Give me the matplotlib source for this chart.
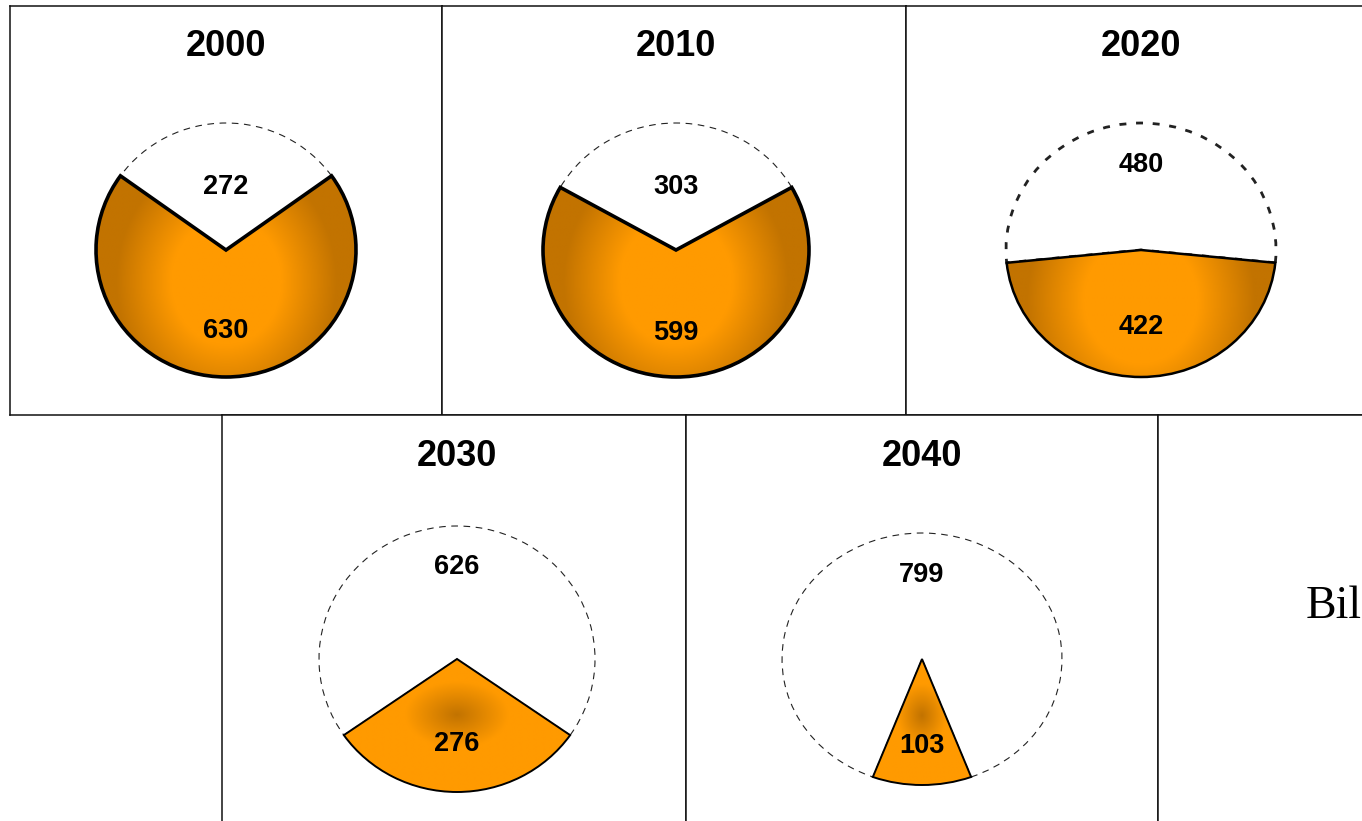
import numpy as np
import matplotlib.pyplot as plt
from matplotlib.colors import LinearSegmentedColormap

# ---------------- data ----------------
years = ['2000', '2010', '2020', '2030', '2040']
white_vals = [272, 303, 480, 626, 799]
orange_vals = [630, 599, 422, 276, 103]
side_label = 'Bil'

# ---------------- layout / style ----------------
W, H = 1362, 821
fig = plt.figure(figsize=(W / 100, H / 100), dpi=100)

# box rectangles in pixel units (left, top, width, height)
boxes = [(10, 6, 432, 409), (442, 6, 464, 409), (906, 6, 470, 409),
         (222, 415, 464, 420), (686, 415, 472, 420)]
extra_box = (1158, 415, 480, 420)
pie_dx = [0, 2, 0, 3, 0]
radii = [(130, 127), (133, 127), (135, 127), (138, 133), (140, 126)]
orange_lw = [2.6, 2.6, 1.8, 1.4, 1.4]
dash_lw = [0.8, 0.8, 2.0, 0.8, 0.8]
dash_pat = [(0, (6, 5)), (0, (6, 5)), (0, (2.5, 3.5)), (0, (6, 5)), (0, (6, 5))]
white_label_d = [0.50, 0.50, 0.67, 0.69, 0.67]
orange_label_d = [0.64, 0.65, 0.61, 0.64, 0.69]
bright_center = [True, True, True, False, False]
grad_cy = [-0.25, -0.25, -0.4, -0.42, -0.45]

bright, dark = '#FF9A00', '#C27300'


def fig_axes(x, y, w, h):
    return fig.add_axes([x / W, 1 - (y + h) / H, w / W, h / H])


def make_box(x, y, w, h):
    ax = fig_axes(x, y, w, h)
    ax.set_xticks([])
    ax.set_yticks([])
    for s in ax.spines.values():
        s.set_linewidth(1.1)
        s.set_color('#111111')
    return ax


for i, (yr, wv, ov) in enumerate(zip(years, white_vals, orange_vals)):
    bx, by, bw, bh = boxes[i]
    bax = make_box(bx, by, bw, bh)
    cx, cy = bx + bw / 2 + pie_dx[i], by + 244
    bax.text((cx - bx) / bw, 1 - 41 / bh, yr, transform=bax.transAxes, ha='center',
             va='center', fontsize=26, fontweight='bold', family='Liberation Sans')

    rx, ry = radii[i]
    m = 1.15
    pax = fig_axes(cx - m * rx, cy - m * ry, 2 * m * rx, 2 * m * ry)
    wa = 360 * wv / (wv + ov)
    wedges, _ = pax.pie([wv, ov], startangle=90 - wa / 2, counterclock=True,
                        radius=1, center=(0, 0))
    pax.set_aspect('auto')
    pax.set_xlim(-m, m)
    pax.set_ylim(-m, m)
    pax.axis('off')

    ww, ow = wedges
    ww.set_facecolor('white')
    ww.set_edgecolor('#222222')
    ww.set_linewidth(dash_lw[i])
    ww.set_linestyle(dash_pat[i])
    ww.set_zorder(1)

    # gradient fill for the orange slice
    n = 300
    xs = np.linspace(-1, 1, n)
    X, Y = np.meshgrid(xs, xs)
    if bright_center[i]:
        d = np.sqrt((X / 0.85) ** 2 + ((Y - grad_cy[i]) / 1.0) ** 2)
        t = np.clip(d, 0, 1)
        cmap = LinearSegmentedColormap.from_list('g', [bright, bright, dark])
    else:
        sx = 0.75 if i == 3 else 0.35
        d = np.sqrt((X / sx) ** 2 + ((Y - grad_cy[i]) / 0.5) ** 2)
        t = np.clip(d, 0, 1)
        cmap = LinearSegmentedColormap.from_list('g', [dark, bright, bright])
    im = pax.imshow(t, extent=[-1, 1, -1, 1], origin='lower', cmap=cmap,
                    vmin=0, vmax=1, aspect='auto', zorder=2, interpolation='bilinear')
    im.set_clip_path(ow)

    ow.set_facecolor('none')
    ow.set_edgecolor('black')
    ow.set_linewidth(orange_lw[i])
    ow.set_joinstyle('miter')
    ow.set_zorder(3)

    pax.text(0, white_label_d[i], str(wv), ha='center', va='center', fontsize=19.5,
             fontweight='bold', family='Liberation Sans', zorder=5)
    pax.text(0, -orange_label_d[i], str(ov), ha='center', va='center', fontsize=19.5,
             fontweight='bold', family='Liberation Sans', zorder=5)

# extra box on the right of the lower row
ex, ey, ew, eh = extra_box
eax = make_box(ex, ey, ew, eh)
eax.text((1306 - ex) / ew, 1 - (618 - ey) / eh, side_label, transform=eax.transAxes,
         ha='left', va='baseline', fontsize=33, family='Liberation Serif')

fig.savefig('out.png', dpi=100)
